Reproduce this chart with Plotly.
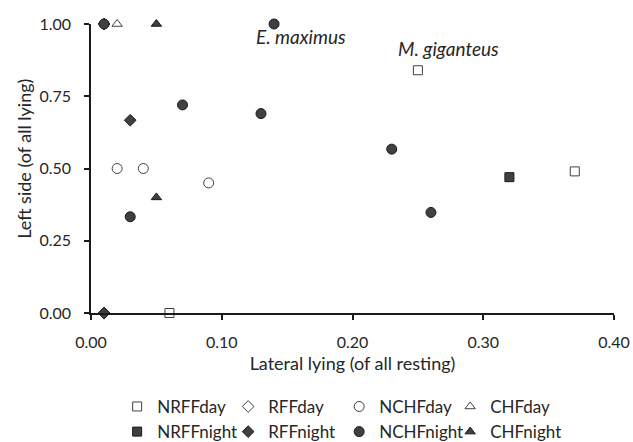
import plotly.graph_objects as go

# ---- data ----
nrff_day_x = [0.06, 0.25, 0.37]
nrff_day_y = [0.00, 0.84, 0.49]
rff_day_x = [0.01]
rff_day_y = [0.00]
nchf_day_x = [0.02, 0.04, 0.09]
nchf_day_y = [0.50, 0.50, 0.45]
chf_day_x = [0.02]
chf_day_y = [1.00]

nrff_night_x = [0.32]
nrff_night_y = [0.47]
rff_night_x = [0.01, 0.03, 0.01]
rff_night_y = [1.00, 0.667, 0.00]
nchf_night_x = [0.01, 0.07, 0.13, 0.14, 0.03, 0.23, 0.26]
nchf_night_y = [1.00, 0.72, 0.69, 1.00, 0.333, 0.567, 0.348]
chf_night_x = [0.05, 0.05]
chf_night_y = [1.00, 0.40]

x_ticks = [0.0, 0.1, 0.2, 0.3, 0.4]
y_ticks = [0.0, 0.25, 0.5, 0.75, 1.0]

FONT = "Lato"
TXT = "#262626"
DARK = "#404040"

fig = go.Figure()

def add(name, xs, ys, symbol, filled, size, legend):
    fig.add_trace(go.Scatter(
        x=xs, y=ys, mode="markers", name=name, legend=legend,
        cliponaxis=False,
        marker=dict(symbol=symbol, size=size,
                    color=DARK if filled else "white",
                    line=dict(color="#1a1a1a" if filled else DARK, width=1)),
    ))

add("NRFFday", nrff_day_x, nrff_day_y, "square", False, 9, "legend")
add("RFFday", rff_day_x, rff_day_y, "diamond", False, 9, "legend")
add("NCHFday", nchf_day_x, nchf_day_y, "circle", False, 10, "legend")
add("CHFday", chf_day_x, chf_day_y, "triangle-up", False, 9, "legend")
add("NRFFnight", nrff_night_x, nrff_night_y, "square", True, 9, "legend2")
add("RFFnight", rff_night_x, rff_night_y, "diamond", True, 9, "legend2")
add("NCHFnight", nchf_night_x, nchf_night_y, "circle", True, 10, "legend2")
add("CHFnight", chf_night_x, chf_night_y, "triangle-up", True, 9, "legend2")

leg_common = dict(orientation="h", entrywidth=66, entrywidthmode="pixels",
                  font=dict(family=FONT, size=17, color=TXT),
                  itemsizing="trace", xanchor="left", yanchor="middle",
                  bgcolor="rgba(0,0,0,0)", tracegroupgap=0)

fig.update_layout(
    width=633, height=442,
    margin=dict(l=91, r=19, t=24, b=129, autoexpand=False),
    plot_bgcolor="white", paper_bgcolor="white",
    font=dict(family=FONT, size=16, color=TXT),
    showlegend=True,
    legend=dict(x=0.05, y=-0.325, **leg_common),
    legend2=dict(x=0.05, y=-0.412, **leg_common),
    xaxis=dict(range=[0, 0.4], tickvals=x_ticks, tickformat=".2f",
               showgrid=False, zeroline=False, showline=True,
               linecolor="#1a1a1a", linewidth=1.5, ticks="outside",
               ticklen=5, tickwidth=1.5, tickcolor="#1a1a1a",
               ticklabelstandoff=9,
               tickfont=dict(family=FONT, size=16, color=TXT),
               title=dict(text="Lateral lying (of all resting)",
                          font=dict(family=FONT, size=18, color=TXT),
                          standoff=7)),
    yaxis=dict(range=[0, 1], tickvals=y_ticks, tickformat=".2f",
               showgrid=False, zeroline=False, showline=True,
               linecolor="#1a1a1a", linewidth=1.5, ticks="outside",
               ticklen=5, tickwidth=1.5, tickcolor="#1a1a1a",
               ticklabelstandoff=10,
               tickfont=dict(family=FONT, size=16, color=TXT)),
)

fig.add_annotation(text="Left side (of all lying)", textangle=-90,
                   xref="paper", yref="paper", x=-0.127, y=0.532,
                   xanchor="center", yanchor="middle", showarrow=False,
                   font=dict(family=FONT, size=18, color=TXT))
fig.add_annotation(text="<i>E. maximus</i>", x=0.1605, y=0.958,
                   showarrow=False, font=dict(family=FONT, size=19, color=TXT))
fig.add_annotation(text="<i>M. giganteus</i>", x=0.2735, y=0.915,
                   showarrow=False, font=dict(family=FONT, size=19, color=TXT))

fig.write_html("out.html",
               config={"displayModeBar": False},
               post_script="document.body.style.margin='0';"
                           "document.body.style.overflow='hidden';")
